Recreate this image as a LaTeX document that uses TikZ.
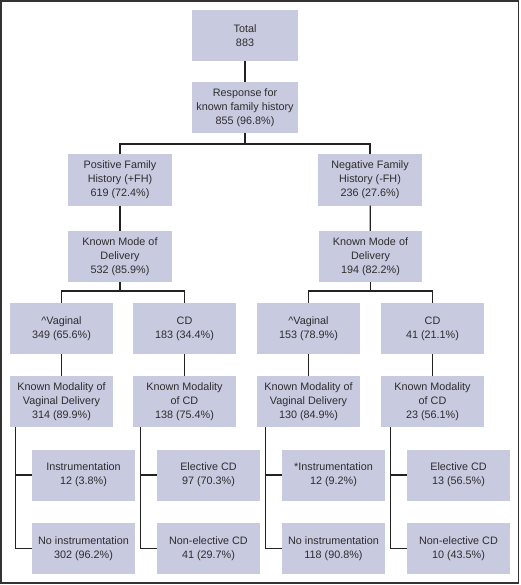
\documentclass[tikz,border=0pt]{standalone}
\usepackage{fontspec}
\setmainfont{Liberation Sans}
\usetikzlibrary{calc}
\definecolor{boxfill}{RGB}{200,202,224}
\definecolor{linec}{RGB}{34,34,34}
\definecolor{framec}{RGB}{51,51,51}
\definecolor{txt}{RGB}{45,45,45}
\tikzset{
  box/.style={fill=boxfill, draw=none, minimum width=103pt, minimum height=51pt, inner sep=0pt, align=center, text=txt, font=\fontsize{10.8}{14}\selectfont},
  wbox/.style={box, minimum width=106pt},
  conn/.style={draw=linec, line width=1.3pt},
}
\begin{document}
\begin{tikzpicture}[x=1pt,y=-1pt]
\useasboundingbox (0,0) rectangle (520,585);
\draw[framec, line width=1.6pt] (1,1) rectangle (518.5,583);
% level 0-1
\node[wbox] (total) at (245,35.5) {Total\\883};
\node[wbox] (resp) at (245,107.5) {Response for\\known family history\\855 (96.8\%)};
\node[box, minimum width=104pt] (pfh) at (120,180) {Positive Family\\History (+FH)\\619 (72.4\%)};
\node[box, minimum width=104pt] (nfh) at (370,180) {Negative Family\\History (-FH)\\236 (27.6\%)};
\node[box, minimum width=104pt] (kml) at (120,256.5) {Known Mode of\\Delivery\\532 (85.9\%)};
\node[box] (kmr) at (370.5,256.5) {Known Mode of\\Delivery\\194 (82.2\%)};
% level vag/cd
\node[box] (vagl) at (61.5,328.5) {\textasciicircum Vaginal\\349 (65.6\%)};
\node[box] (cdl) at (184.5,328.5) {CD\\183 (34.4\%)};
\node[box] (vagr) at (308.5,328.5) {\textasciicircum Vaginal\\153 (78.9\%)};
\node[box] (cdr) at (432.5,328.5) {CD\\41 (21.1\%)};
% modality
\node[box] (mvl) at (61.5,401.5) {Known Modality of\\Vaginal Delivery\\314 (89.9\%)};
\node[box] (mcl) at (184.5,401.5) {Known Modality\\of CD\\138 (75.4\%)};
\node[box] (mvr) at (308.5,401.5) {Known Modality of\\Vaginal Delivery\\130 (84.9\%)};
\node[box] (mcr) at (432.5,401.5) {Known Modality\\of CD\\23 (56.1\%)};
% leaves
\node[box] (il) at (83.5,475) {Instrumentation\\12 (3.8\%)};
\node[box] (nil) at (83.5,548.5) {No instrumentation\\302 (96.2\%)};
\node[box] (el) at (208.5,475) {Elective CD\\97 (70.3\%)};
\node[box] (nel) at (208.5,548.5) {Non-elective CD\\41 (29.7\%)};
\node[box] (ir) at (333.5,475) {*Instrumentation\\12 (9.2\%)};
\node[box] (nir) at (333.5,548.5) {No instrumentation\\118 (90.8\%)};
\node[box] (er) at (458.5,475) {Elective CD\\13 (56.5\%)};
\node[box] (ner) at (458.5,548.5) {Non-elective CD\\10 (43.5\%)};
% connectors
\coordinate (s1) at (245,144);
\coordinate (s2) at (120,291);
\coordinate (s3) at (370.5,291);
\draw[conn] (total) -- (resp);
\draw[conn] (resp) -- (s1);
\draw[conn] (pfh.north) |- (s1) -| (nfh.north);
\draw[conn] (pfh) -- (kml);
\draw[conn] (nfh) -- (kmr);
\draw[conn] (kml) -- (s2);
\draw[conn] (kmr) -- (s3);
\draw[conn] (vagl.north) |- (s2) -| (cdl.north);
\draw[conn] (vagr.north) |- (s3) -| (cdr.north);
\draw[conn] (vagl) -- (mvl);
\draw[conn] (cdl) -- (mcl);
\draw[conn] (vagr) -- (mvr);
\draw[conn] (cdr) -- (mcr);
\foreach \p/\a/\b in {mvl/il/nil, mcl/el/nel, mvr/ir/nir, mcr/er/ner}{
  \draw[conn] ([xshift=-16pt]\a.west |- \p.south) |- (\b.west);
  \draw[conn] ([xshift=-16pt]\a.west) -- (\a.west);
}
\end{tikzpicture}
\end{document}
